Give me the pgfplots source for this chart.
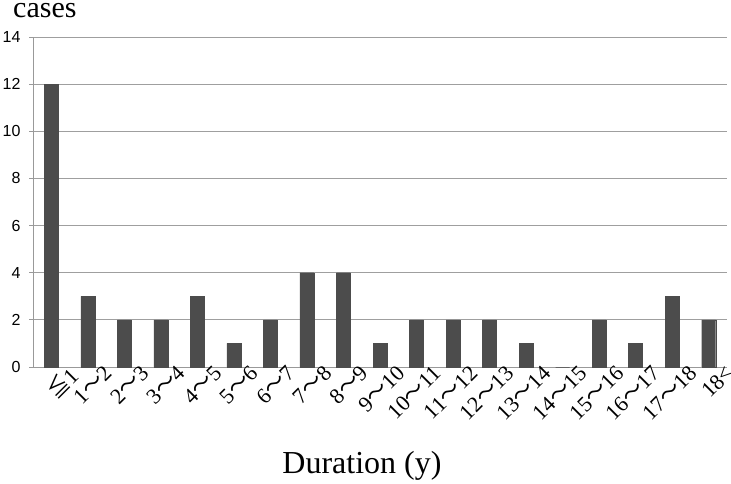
\documentclass[border=0pt]{standalone}
\usepackage{pgfplots}
\pgfplotsset{compat=1.18}
\usepackage{fontspec}
\setmainfont{Liberation Serif}
\newfontfamily\arial{Liberation Sans}
\newfontfamily\cjk{Noto Sans CJK JP}
\newcommand{\wdash}{{\cjk 〜}}
\begin{document}
\begin{tikzpicture}
\useasboundingbox (0,0) rectangle (731pt,483pt);
\begin{axis}[
  at={(33pt,116pt)}, anchor=south west,
  scale only axis,
  width=694pt, height=330pt,
  xmin=-0.5, xmax=18.5,
  ymin=0, ymax=14,
  ytick={0,2,...,14},
  xtick={0,...,18},
  xticklabels={{\cjk ≦}1,1\wdash2,2\wdash3,3\wdash4,4\wdash5,5\wdash6,6\wdash7,7\wdash8,8\wdash9,9\wdash10,10\wdash11,11\wdash12,12\wdash13,13\wdash14,14\wdash15,15\wdash16,16\wdash17,17\wdash18,18<},
  axis x line*=bottom,
  axis y line*=left,
  axis line style={draw=gray!80, line width=1pt, -},
  ymajorgrids,
  grid style={draw=gray!75, line width=0.8pt},
  tick align=outside,
  x tick style={draw=none},
  y tick style={draw=gray!80, line width=0.8pt},
  major tick length=4pt,
  /pgf/number format/assume math mode=true,
  yticklabel style={font=\arial\fontsize{16}{16}\selectfont, xshift=-5pt},
  xticklabel style={font=\fontsize{22}{22}\selectfont, rotate=45, anchor=north east, inner sep=0pt, xshift=16pt, yshift=-6pt},
  clip=false,
]
\addplot[ybar, bar width=14pt, fill=black!70, draw=black!70] coordinates {
(0,12) (1,3) (2,2) (3,2) (4,3) (5,1) (6,2) (7,4) (8,4) (9,1)
(10,2) (11,2) (12,2) (13,1) (14,0) (15,2) (16,1) (17,3) (18,2)
};
\node[anchor=base west, inner sep=0pt, font=\fontsize{30}{30}\selectfont] at (rel axis cs:0,1) [xshift=-20pt, yshift=20pt] {cases};
\node[anchor=base, inner sep=0pt, font=\fontsize{32}{32}\selectfont] at (rel axis cs:0.474,0) [yshift=-106pt] {Duration (y)};
\end{axis}
\end{tikzpicture}
\end{document}
